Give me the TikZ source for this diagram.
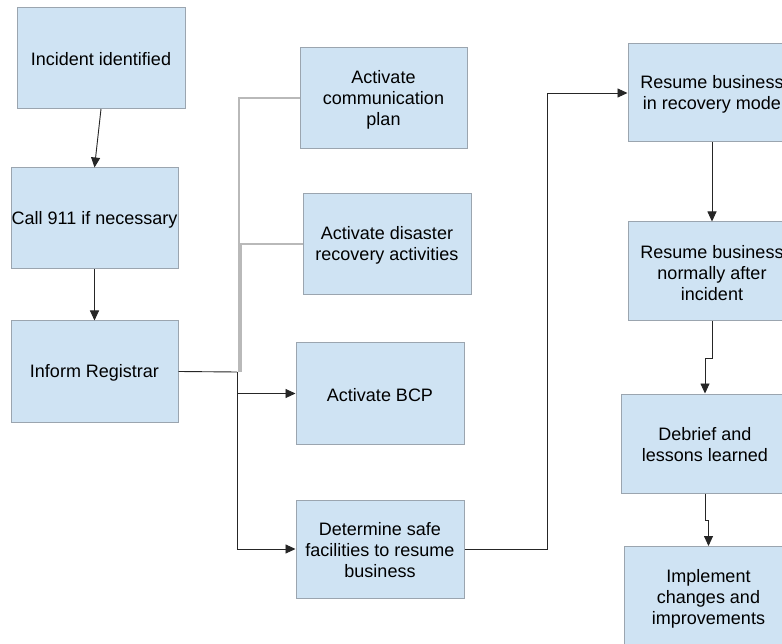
\documentclass[tikz,border=0pt]{standalone}
\usepackage{fontspec}
\setmainfont{Liberation Sans}
\usetikzlibrary{arrows.meta}
\definecolor{boxfill}{RGB}{207,227,243}
\definecolor{boxdraw}{RGB}{155,165,175}
\definecolor{lightline}{RGB}{185,185,185}
\tikzset{
  stepbox/.style={draw=boxdraw, fill=boxfill, line width=1pt, rectangle,
    minimum width=168pt, minimum height=101pt, inner sep=0pt},
  boxtext/.style={inner sep=0pt, align=center, yshift=-1.5pt,
    font=\fontsize{18}{21}\selectfont},
  conn/.style={draw=black!85, line width=0.9pt},
  arr/.style={conn, -{Triangle[length=10pt,width=9pt]}},
  grayconn/.style={draw=lightline, line width=1.4pt}
}
\begin{document}
\begin{tikzpicture}[x=1pt,y=-1pt]
\clip (0,0) rectangle (782,644);
\fill[white] (0,0) rectangle (782,644);
% left column
\node[stepbox, label={[boxtext]center:Incident identified}] (n1) at (101,58) {};
\node[stepbox, minimum width=167pt, label={[boxtext]center:Call 911 if necessary}] (n2) at (94.5,218.5) {};
\node[stepbox, minimum width=167pt, label={[boxtext]center:Inform Registrar}] (n3) at (94.5,371.5) {};
% middle column
\node[stepbox, minimum width=167pt, label={[boxtext]center:{Activate\\communication\\plan}}] (n4) at (383.5,98) {};
\node[stepbox, label={[boxtext]center:{Activate disaster\\recovery activities}}] (n5) at (387,244) {};
\node[stepbox, label={[boxtext]center:Activate BCP}] (n6) at (380,393.5) {};
\node[stepbox, minimum height=98pt, label={[boxtext]center:{Determine safe\\facilities to resume\\business}}] (n7) at (380,549) {};
% right column
\node[stepbox, minimum height=98pt, label={[boxtext]center:{Resume business\\in recovery mode}}] (n8) at (712,93) {};
\node[stepbox, minimum height=99pt, label={[boxtext]center:{Resume business\\normally after\\incident}}] (n9) at (712,271.5) {};
\node[stepbox, minimum height=99pt, label={[boxtext]center:{Debrief and\\lessons learned}}] (n10) at (705,443.5) {};
\node[stepbox, label={[boxtext]center:{Implement\\changes and\\improvements}}] (n11) at (708.5,597) {};
% connectors
\draw[arr] (n1.south) -- (n2.north);
\draw[arr] (n2.south) -- (n3.north);
\coordinate (g1) at (239,372);
\coordinate (g2) at (241,372);
\draw[grayconn] (g1) |- (n4.west);
\draw[grayconn] (g2) |- (n5.west);
\coordinate (j) at (237,372);
\draw[conn] (n3.east) -- (j);
\draw[arr] (j) |- (n6.west);
\draw[arr] (j) |- (n7.west);
\coordinate (k) at (547,93);
\draw[arr] (n7.east) -| (k) -- (n8.west);
\draw[arr] (n8.south) -- (n9.north);
\draw[arr] (n9.south) -- ++(0,37) -| (n10.north);
\draw[arr] (n10.south) -- ++(0,27) -| (n11.north);
\end{tikzpicture}
\end{document}
